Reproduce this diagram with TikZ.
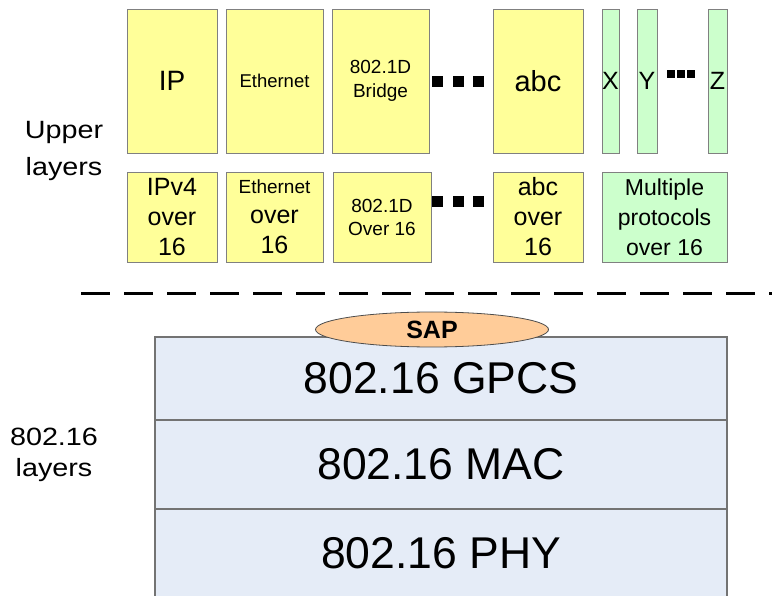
\documentclass[tikz,border=0pt]{standalone}
\usepackage{fontspec}
\setmainfont{Liberation Sans}
\newfontfamily\sidefont[FakeStretch=1.15]{Liberation Sans}
\usetikzlibrary{shapes.geometric}
\definecolor{protoyellow}{HTML}{FFFF99}
\definecolor{protogreen}{HTML}{CCFFCC}
\definecolor{layerblue}{HTML}{E5ECF7}
\definecolor{sapfill}{HTML}{FFCC99}
\tikzset{
	proto/.style={draw=black!50, line width=0.8pt, fill=protoyellow, inner sep=0pt, align=center},
	protog/.style={proto, fill=protogreen},
	upper/.style={minimum height=144pt},
	lower/.style={minimum height=90pt},
	layer/.style={draw=black!55, line width=1.5pt, fill=layerblue, minimum width=572pt, inner sep=0pt, font=\fontsize{44.5}{50}\selectfont},
	dotbox/.style={fill=black}
}

\begin{document}
\begin{tikzpicture}[x=1pt, y=-1pt]
			%%%%% START %%%%%
			\clip (0, 0) rectangle (772, 596);
			
			% upper protocols
			\node[proto, upper, minimum width=90pt, font=\fontsize{28}{32}\selectfont] (ip) at (172, 81) {IP};
			\node[proto, upper, minimum width=97pt, font=\fontsize{18.5}{22}\selectfont] (eth) at (274.5, 81) {Ethernet};
			\node[proto, upper, minimum width=97pt, font=\fontsize{19}{24}\selectfont] (bridge) at (380.5, 81) {802.1D\\Bridge};
			\node[proto, upper, minimum width=90pt, font=\fontsize{29}{32}\selectfont] (abc) at (538, 81) {abc};
			\node[protog, upper, minimum width=17pt, font=\fontsize{25}{30}\selectfont] (protx) at (610.5, 81) {X};
			\node[protog, upper, minimum width=20pt, font=\fontsize{25}{30}\selectfont] (proty) at (647, 81) {Y};
			\node[protog, upper, minimum width=19pt, font=\fontsize{25}{30}\selectfont] (protz) at (717.5, 81) {Z};
			
			% convergence sublayers
			\node[proto, lower, minimum width=90pt, font=\fontsize{25}{30}\selectfont] (ipv4) at (172, 217) {IPv4\\over\\16};
			\node[proto, lower, minimum width=97pt, font=\fontsize{25}{30}\selectfont] (ethover) at (274.5, 217) {{\fontsize{19}{22}\selectfont Ethernet}\\over\\16};
			\node[proto, lower, minimum width=98pt, font=\fontsize{19}{23}\selectfont] (bridgeover) at (382, 217) {802.1D\\Over 16};
			\node[proto, lower, minimum width=90pt, font=\fontsize{25}{30}\selectfont] (abcover) at (538, 217) {abc\\over\\16};
			\node[protog, lower, minimum width=125pt, font=\fontsize{23}{30}\selectfont] (multi) at (664.5, 217) {Multiple\\protocols\\over 16};
			
			% dots
			\foreach \x in {432, 452.5, 473}
			{
				\fill[dotbox] (\x, 76) rectangle ++(11, 11);
				\fill[dotbox] (\x, 196.5) rectangle ++(11, 11);
			}
			\foreach \x in {667, 677, 687}
				\fill[dotbox] (\x, 70) rectangle ++(8, 8);
			
			\node[align=center, font=\sidefont\fontsize{25}{36.5}\selectfont] (upperlbl) at (64, 151) {Upper\\layers};
			
			% separator
			\coordinate (sepl) at (81, 294);
			\coordinate (sepr) at (772, 294);
			\draw[line width=3pt, dash pattern=on 29pt off 14pt] (sepl) -- (sepr);
			
			% 802.16 stack
			\node[layer, minimum height=83pt] (gpcs) at (441, 378.5) {802.16 GPCS};
			\node[layer, minimum height=89pt] (mac) at (441, 464.5) {802.16 MAC};
			\node[layer, minimum height=89pt] (phy) at (441, 553.5) {802.16 PHY};
			\node[ellipse, draw=black!70, line width=0.8pt, fill=sapfill, minimum width=233pt, minimum height=35pt, inner sep=0pt, font=\bfseries\fontsize{25}{28}\selectfont] (sap) at (432, 329.5) {SAP};
			
			\node[align=center, font=\sidefont\fontsize{25}{30.5}\selectfont] (stacklbl) at (54, 455) {802.16\\layers};
			
			%%%%% END %%%%%
\end{tikzpicture}
\end{document}
